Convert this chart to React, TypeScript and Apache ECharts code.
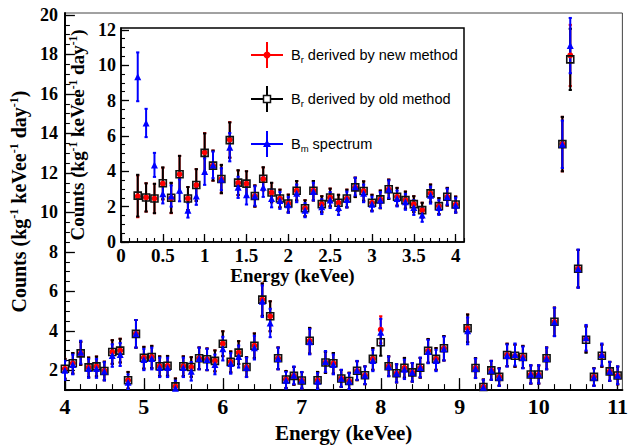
import React, { useEffect, useRef } from 'react';
import * as echarts from 'echarts';

// ---------- data ----------
const mainEnergy = [4.0, 4.1, 4.2, 4.3, 4.4, 4.5, 4.6, 4.7, 4.8, 4.9, 5.0, 5.1, 5.2, 5.3, 5.4, 5.5, 5.6, 5.7, 5.8, 5.9,
  6.0, 6.1, 6.2, 6.3, 6.4, 6.5, 6.6, 6.7, 6.8, 6.9, 7.0, 7.1, 7.2, 7.3, 7.4, 7.5, 7.6, 7.7, 7.8, 7.9,
  8.0, 8.1, 8.2, 8.3, 8.4, 8.5, 8.6, 8.7, 8.8, 9.1, 9.2, 9.3, 9.4, 9.5, 9.6, 9.7, 9.8, 9.9,
  10.0, 10.1, 10.2, 10.3, 10.4, 10.5, 10.6, 10.7, 10.8, 10.9, 11.0];
const mainNew = [2.08, 2.36, 2.86, 2.15, 2.2, 1.97, 2.93, 3.0, 1.5, 3.85, 2.64, 2.68, 2.21, 2.23, 1.19, 2.21, 2.17, 2.61, 2.56, 2.48,
  3.35, 2.43, 2.9, 2.17, 3.25, 5.58, 4.74, 2.61, 1.54, 1.72, 1.49, 3.5, 1.5, 2.4, 2.36, 1.59, 1.46, 1.98, 1.75, 2.58,
  4.06, 2.21, 1.85, 2.13, 1.9, 2.13, 2.99, 2.58, 3.12, 4.13, 2.12, 1.16, 2.0, 1.67, 2.78, 2.74, 2.68, 1.79,
  1.79, 2.61, 4.46, 13.46, 17.95, 7.15, 3.6, 1.67, 2.74, 1.95, 1.74];
const mainOld = [2.08, 2.36, 2.86, 2.15, 2.2, 1.97, 2.93, 3.0, 1.5, 3.85, 2.64, 2.68, 2.21, 2.23, 1.19, 2.21, 2.17, 2.61, 2.56, 2.48,
  3.35, 2.43, 2.9, 2.17, 3.25, 5.58, 4.74, 2.61, 1.54, 1.72, 1.49, 3.5, 1.5, 2.4, 2.36, 1.59, 1.46, 1.98, 1.75, 2.58,
  3.42, 2.21, 1.85, 2.13, 1.9, 2.13, 2.99, 2.58, 3.12, 4.13, 2.12, 1.16, 2.0, 1.67, 2.78, 2.74, 2.68, 1.79,
  1.79, 2.61, 4.46, 13.46, 17.75, 7.15, 3.55, 1.67, 2.74, 1.95, 1.74];
const mainM = [2.0, 2.3, 2.92, 2.1, 2.1, 1.95, 2.75, 2.8, 1.4, 3.85, 2.55, 2.6, 2.15, 2.15, 1.1, 2.15, 1.95, 2.6, 2.55, 2.3,
  3.1, 2.35, 2.7, 2.15, 3.15, 5.5, 4.4, 2.6, 1.5, 1.75, 1.5, 3.45, 1.45, 2.45, 2.3, 1.6, 1.45, 2.0, 1.75, 2.5,
  3.93, 2.2, 1.85, 2.05, 1.9, 2.15, 2.95, 2.5, 3.1, 4.0, 2.1, 1.15, 2.0, 1.65, 2.75, 2.8, 2.65, 1.8,
  1.8, 2.6, 4.45, 13.45, 18.45, 7.15, 3.65, 1.65, 2.8, 1.95, 1.75];
const mainErrR = [0.5, 0.52, 0.58, 0.5, 0.5, 0.47, 0.6, 0.6, 0.42, 0.7, 0.55, 0.56, 0.5, 0.5, 0.4, 0.5, 0.5, 0.55, 0.55, 0.53,
  0.63, 0.53, 0.58, 0.5, 0.62, 0.82, 0.76, 0.55, 0.43, 0.45, 0.42, 0.65, 0.42, 0.53, 0.52, 0.43, 0.42, 0.48, 0.45, 0.55,
  0.68, 0.5, 0.46, 0.5, 0.47, 0.5, 0.6, 0.55, 0.62, 0.7, 0.5, 0.38, 0.48, 0.44, 0.57, 0.56, 0.56, 0.46,
  0.46, 0.55, 0.72, 1.38, 1.55, 0.95, 0.66, 0.44, 0.56, 0.48, 0.45];
const mainErrM = [0.48, 0.5, 0.58, 0.48, 0.48, 0.46, 0.57, 0.58, 0.4, 0.7, 0.54, 0.55, 0.49, 0.49, 0.38, 0.49, 0.47, 0.55, 0.54, 0.5,
  0.6, 0.52, 0.56, 0.49, 0.6, 0.8, 0.72, 0.55, 0.42, 0.45, 0.42, 0.64, 0.41, 0.53, 0.5, 0.43, 0.41, 0.48, 0.45, 0.54,
  0.68, 0.5, 0.46, 0.49, 0.47, 0.5, 0.59, 0.54, 0.6, 0.68, 0.49, 0.37, 0.48, 0.44, 0.56, 0.56, 0.55, 0.46,
  0.46, 0.55, 0.72, 1.2, 1.4, 0.97, 0.65, 0.44, 0.56, 0.48, 0.45];

const insetEnergy = [0.2, 0.3, 0.4, 0.5, 0.6, 0.7, 0.8, 0.9, 1.0, 1.1, 1.2, 1.3, 1.4, 1.5, 1.6, 1.7, 1.8, 1.9, 2.0,
  2.1, 2.2, 2.3, 2.4, 2.5, 2.6, 2.7, 2.8, 2.9, 3.0, 3.1, 3.2, 3.3, 3.4, 3.5, 3.6, 3.7, 3.8, 3.9, 4.0];
const insetNew = [2.58, 2.52, 2.46, 3.3, 2.48, 3.83, 2.46, 3.22, 5.06, 4.32, 3.56, 5.78, 3.34, 3.3, 2.6, 3.56, 2.79, 2.46, 2.18,
  2.9, 1.91, 2.9, 2.14, 2.52, 2.22, 2.46, 3.09, 2.88, 2.22, 2.41, 2.98, 2.56, 2.37, 2.14, 1.8, 2.75, 2.03, 2.56, 2.12];
const insetOld = [2.62, 2.52, 2.46, 3.32, 2.5, 3.83, 2.46, 3.22, 5.04, 4.32, 3.56, 5.76, 3.36, 3.3, 2.6, 3.58, 2.8, 2.46, 2.18,
  2.9, 1.91, 2.9, 2.14, 2.52, 2.22, 2.46, 3.09, 2.88, 2.22, 2.41, 2.98, 2.56, 2.37, 2.14, 1.8, 2.75, 2.03, 2.56, 2.12];
const insetM = [9.34, 6.73, 4.36, 2.73, 2.6, 2.92, 1.8, 2.6, 3.98, 4.36, 3.55, 5.36, 3.09, 2.67, 2.6, 3.1, 2.46, 2.35, 2.1,
  2.75, 1.8, 2.85, 2.0, 2.37, 1.95, 2.4, 3.13, 2.75, 2.14, 2.37, 2.98, 2.46, 2.27, 1.95, 1.52, 2.65, 1.95, 2.56, 2.08];
const insetErrR = [1.18, 0.8, 0.83, 0.9, 0.85, 1.04, 0.65, 0.9, 1.1, 0.85, 0.8, 1.0, 0.7, 0.7, 0.6, 0.65, 0.55, 0.5, 0.5,
  0.55, 0.45, 0.55, 0.45, 0.5, 0.45, 0.5, 0.55, 0.55, 0.45, 0.5, 0.55, 0.5, 0.48, 0.45, 0.42, 0.5, 0.45, 0.5, 0.45];
const insetErrM = [1.38, 0.8, 0.68, 0.55, 0.6, 0.62, 0.42, 0.5, 0.75, 0.75, 0.62, 0.8, 0.6, 0.55, 0.55, 0.55, 0.5, 0.48, 0.45,
  0.5, 0.4, 0.5, 0.42, 0.45, 0.42, 0.45, 0.5, 0.5, 0.42, 0.45, 0.5, 0.45, 0.45, 0.42, 0.38, 0.48, 0.42, 0.45, 0.42];

const mainXTicks = [4, 5, 6, 7, 8, 9, 10, 11];
const mainYTicks = [2, 4, 6, 8, 10, 12, 14, 16, 18, 20];
const insetXTicks = [0, 0.5, 1, 1.5, 2, 2.5, 3, 3.5, 4];
const insetYTicks = [0, 2, 4, 6, 8, 10, 12];

const legendLabels = [' derived by new method', ' derived by old method', ' spectrum'];
const legendSubs = ['r', 'r', 'm'];

// ---------- helpers ----------
const serif = '"Liberation Serif", "Times New Roman", serif';
const sans = '"Liberation Sans", Arial, sans-serif';

function steps(a: number, b: number, s: number): number[] {
  const out: number[] = [];
  const n = Math.round((b - a) / s);
  for (let i = 0; i <= n; i++) out.push(Math.round((a + i * s) * 1000) / 1000);
  return out;
}

function errSeries(xi: number, yi: number, xs: number[], ys: number[], es: number[], color: string) {
  return {
    type: 'custom',
    xAxisIndex: xi,
    yAxisIndex: yi,
    clip: true,
    silent: true,
    encode: { x: 0, y: [1, 2] },
    data: xs.map((x, i) => [x, ys[i] - es[i], ys[i] + es[i]]),
    renderItem: (_p: any, api: any) => {
      const a = api.coord([api.value(0), api.value(1)]);
      const b = api.coord([api.value(0), api.value(2)]);
      return {
        type: 'group',
        children: [
          { type: 'line', shape: { x1: a[0], y1: a[1], x2: b[0], y2: b[1] }, style: { stroke: color, lineWidth: 2 } },
          { type: 'line', shape: { x1: a[0] - 1.6, y1: a[1], x2: a[0] + 1.6, y2: a[1] }, style: { stroke: color, lineWidth: 2 } },
          { type: 'line', shape: { x1: b[0] - 1.6, y1: b[1], x2: b[0] + 1.6, y2: b[1] }, style: { stroke: color, lineWidth: 2 } },
        ],
      };
    },
  };
}

function markSeries(xi: number, yi: number, xs: number[], ys: number[], kind: 'new' | 'old' | 'm') {
  const base: any = {
    type: 'scatter',
    xAxisIndex: xi,
    yAxisIndex: yi,
    clip: true,
    silent: true,
    data: xs.map((x, i) => [x, ys[i]]),
  };
  if (kind === 'new') {
    base.symbol = 'circle';
    base.symbolSize = 6;
    base.itemStyle = { color: '#ff0000', opacity: 1 };
  } else if (kind === 'old') {
    base.symbol = 'rect';
    base.symbolSize = 7;
    base.itemStyle = { color: 'rgba(0,0,0,0)', borderColor: '#111', borderWidth: 1.6, opacity: 1 };
  } else {
    base.symbol = 'triangle';
    base.symbolSize = 7;
    base.itemStyle = { color: '#0000ff', opacity: 1 };
  }
  return base;
}

const supRich = {
  a: { fontSize: 20, fontWeight: 'bold', fontFamily: serif, color: '#000', lineHeight: 22 },
  s: { fontSize: 12, fontWeight: 'bold', fontFamily: serif, color: '#000', lineHeight: 12, verticalAlign: 'top' },
};
const supRichSmall = {
  a: { fontSize: 19, fontWeight: 'bold', fontFamily: serif, color: '#000', lineHeight: 21 },
  s: { fontSize: 11.5, fontWeight: 'bold', fontFamily: serif, color: '#000', lineHeight: 11, verticalAlign: 'top' },
};
const countsName = '{a|Counts (kg}{s|-1}{a| keVee}{s|-1}{a| day}{s|-1}{a|)}';

function valueAxis(grid: number, min: number, max: number, major: number[], minor: number[], opts: any) {
  const mainAx = {
    type: 'value',
    gridIndex: grid,
    min,
    max,
    position: opts.position,
    axisLine: { show: true, onZero: false, lineStyle: { color: '#000', width: opts.lineWidth } },
    axisTick: { show: true, inside: true, length: opts.majorLen, customValues: major, lineStyle: { color: '#000', width: 1.3 } },
    axisLabel: {
      show: true,
      customValues: major,
      margin: opts.margin,
      fontSize: opts.fontSize,
      fontWeight: 'bold',
      fontFamily: serif,
      color: '#000',
      hideOverlap: false,
    },
    splitLine: { show: false },
    name: opts.name,
    nameLocation: 'middle',
    nameGap: opts.nameGap,
    nameRotate: opts.nameRotate,
    nameTextStyle: opts.nameTextStyle,
  };
  const minorAx = {
    type: 'value',
    gridIndex: grid,
    min,
    max,
    position: opts.position,
    axisLine: { show: false },
    axisTick: { show: true, inside: true, length: opts.minorLen, customValues: minor, lineStyle: { color: '#000', width: 1.1 } },
    axisLabel: { show: false },
    splitLine: { show: false },
  };
  return [mainAx, minorAx];
}

export default function App() {
  const ref = useRef<HTMLDivElement>(null);
  useEffect(() => {
    if (!ref.current) return;
    const chart = echarts.init(ref.current, undefined, { renderer: 'svg' });

    const [mx0, mx1] = valueAxis(0, 4, 11.06, mainXTicks, steps(4, 11, 0.2), {
      position: 'bottom', lineWidth: 2, majorLen: 12, minorLen: 6, margin: 5, fontSize: 22,
      name: 'Energy (keVee)', nameGap: 28,
      nameTextStyle: { fontSize: 21, fontWeight: 'bold', fontFamily: serif, color: '#000' },
    });
    const [my0, my1] = valueAxis(0, 1, 20.1, mainYTicks, steps(1, 20, 0.5), {
      position: 'left', lineWidth: 2, majorLen: 10, minorLen: 5, margin: 7, fontSize: 18,
      name: countsName, nameGap: 28, nameRotate: 90,
      nameTextStyle: { rich: supRich },
    });
    const [ix0, ix1] = valueAxis(1, 0, 4.1, insetXTicks, steps(0, 4.1, 0.1), {
      position: 'bottom', lineWidth: 1.5, majorLen: 8, minorLen: 4, margin: 4, fontSize: 19,
      name: 'Energy (keVee)', nameGap: 22,
      nameTextStyle: { fontSize: 19, fontWeight: 'bold', fontFamily: serif, color: '#000' },
    });
    const [iy0, iy1] = valueAxis(1, 0, 12.1, insetYTicks, steps(0, 12, 0.5), {
      position: 'left', lineWidth: 1.5, majorLen: 8, minorLen: 4, margin: 5, fontSize: 18,
      name: countsName, nameGap: 24, nameRotate: 90,
      nameTextStyle: { rich: supRichSmall },
    });

    const legendY = [55, 99, 144];
    const legendColors = ['#ff0000', '#000000', '#0000ff'];
    const graphic: any[] = [];
    legendY.forEach((y, i) => {
      const c = legendColors[i];
      graphic.push({ type: 'line', z: 100, shape: { x1: 251, y1: y, x2: 283, y2: y }, style: { stroke: c, lineWidth: 2 } });
      graphic.push({ type: 'line', z: 100, shape: { x1: 267, y1: y - 13, x2: 267, y2: y + 13 }, style: { stroke: c, lineWidth: 2 } });
      if (i === 0) graphic.push({ type: 'circle', z: 101, shape: { cx: 267, cy: y, r: 3.5 }, style: { fill: c } });
      if (i === 1) graphic.push({ type: 'rect', z: 101, shape: { x: 263.5, y: y - 3.5, width: 7, height: 7 }, style: { fill: '#fff', stroke: '#111', lineWidth: 1.5 } });
      if (i === 2) graphic.push({ type: 'polygon', z: 101, shape: { points: [[267, y - 4.5], [263, y + 3], [271, y + 3]] }, style: { fill: c } });
      graphic.push({
        type: 'text', z: 101, x: 291, y,
        style: {
          text: `{t|B}{s|${legendSubs[i]}}{t|${legendLabels[i]}}`,
          verticalAlign: 'middle',
          align: 'left',
          rich: {
            t: { fontSize: 14.5, fontFamily: sans, fill: '#000', lineHeight: 18 },
            s: { fontSize: 9.5, fontFamily: sans, fill: '#000', lineHeight: 10, verticalAlign: 'bottom' },
          },
        },
      });
    });

    const option: any = {
      animation: false,
      backgroundColor: '#fff',
      grid: [
        { left: 61, right: 2, top: 13, bottom: 49, show: true, borderColor: '#444', borderWidth: 1, backgroundColor: 'rgba(0,0,0,0)', containLabel: false },
        { left: 121, right: 167, top: 28, bottom: 206, show: true, borderColor: '#000', borderWidth: 1.5, backgroundColor: '#fff', containLabel: false },
      ],
      xAxis: [mx0, mx1, ix0, ix1],
      yAxis: [my0, my1, iy0, iy1],
      graphic,
      series: [
        errSeries(0, 0, mainEnergy, mainNew, mainErrR, '#ff0000'),
        errSeries(0, 0, mainEnergy, mainOld, mainErrR, '#000000'),
        markSeries(0, 0, mainEnergy, mainNew, 'new'),
        markSeries(0, 0, mainEnergy, mainOld, 'old'),
        errSeries(0, 0, mainEnergy, mainM, mainErrM, '#0000ff'),
        markSeries(0, 0, mainEnergy, mainM, 'm'),
        errSeries(2, 2, insetEnergy, insetNew, insetErrR, '#ff0000'),
        errSeries(2, 2, insetEnergy, insetOld, insetErrR, '#000000'),
        markSeries(2, 2, insetEnergy, insetNew, 'new'),
        markSeries(2, 2, insetEnergy, insetOld, 'old'),
        errSeries(2, 2, insetEnergy, insetM, insetErrM, '#0000ff'),
        markSeries(2, 2, insetEnergy, insetM, 'm'),
      ],
    };
    chart.setOption(option);
    return () => chart.dispose();
  }, []);
  return <div ref={ref} style={{ position: 'absolute', left: 0, top: 0, width: 631, height: 448 }} />;
}
